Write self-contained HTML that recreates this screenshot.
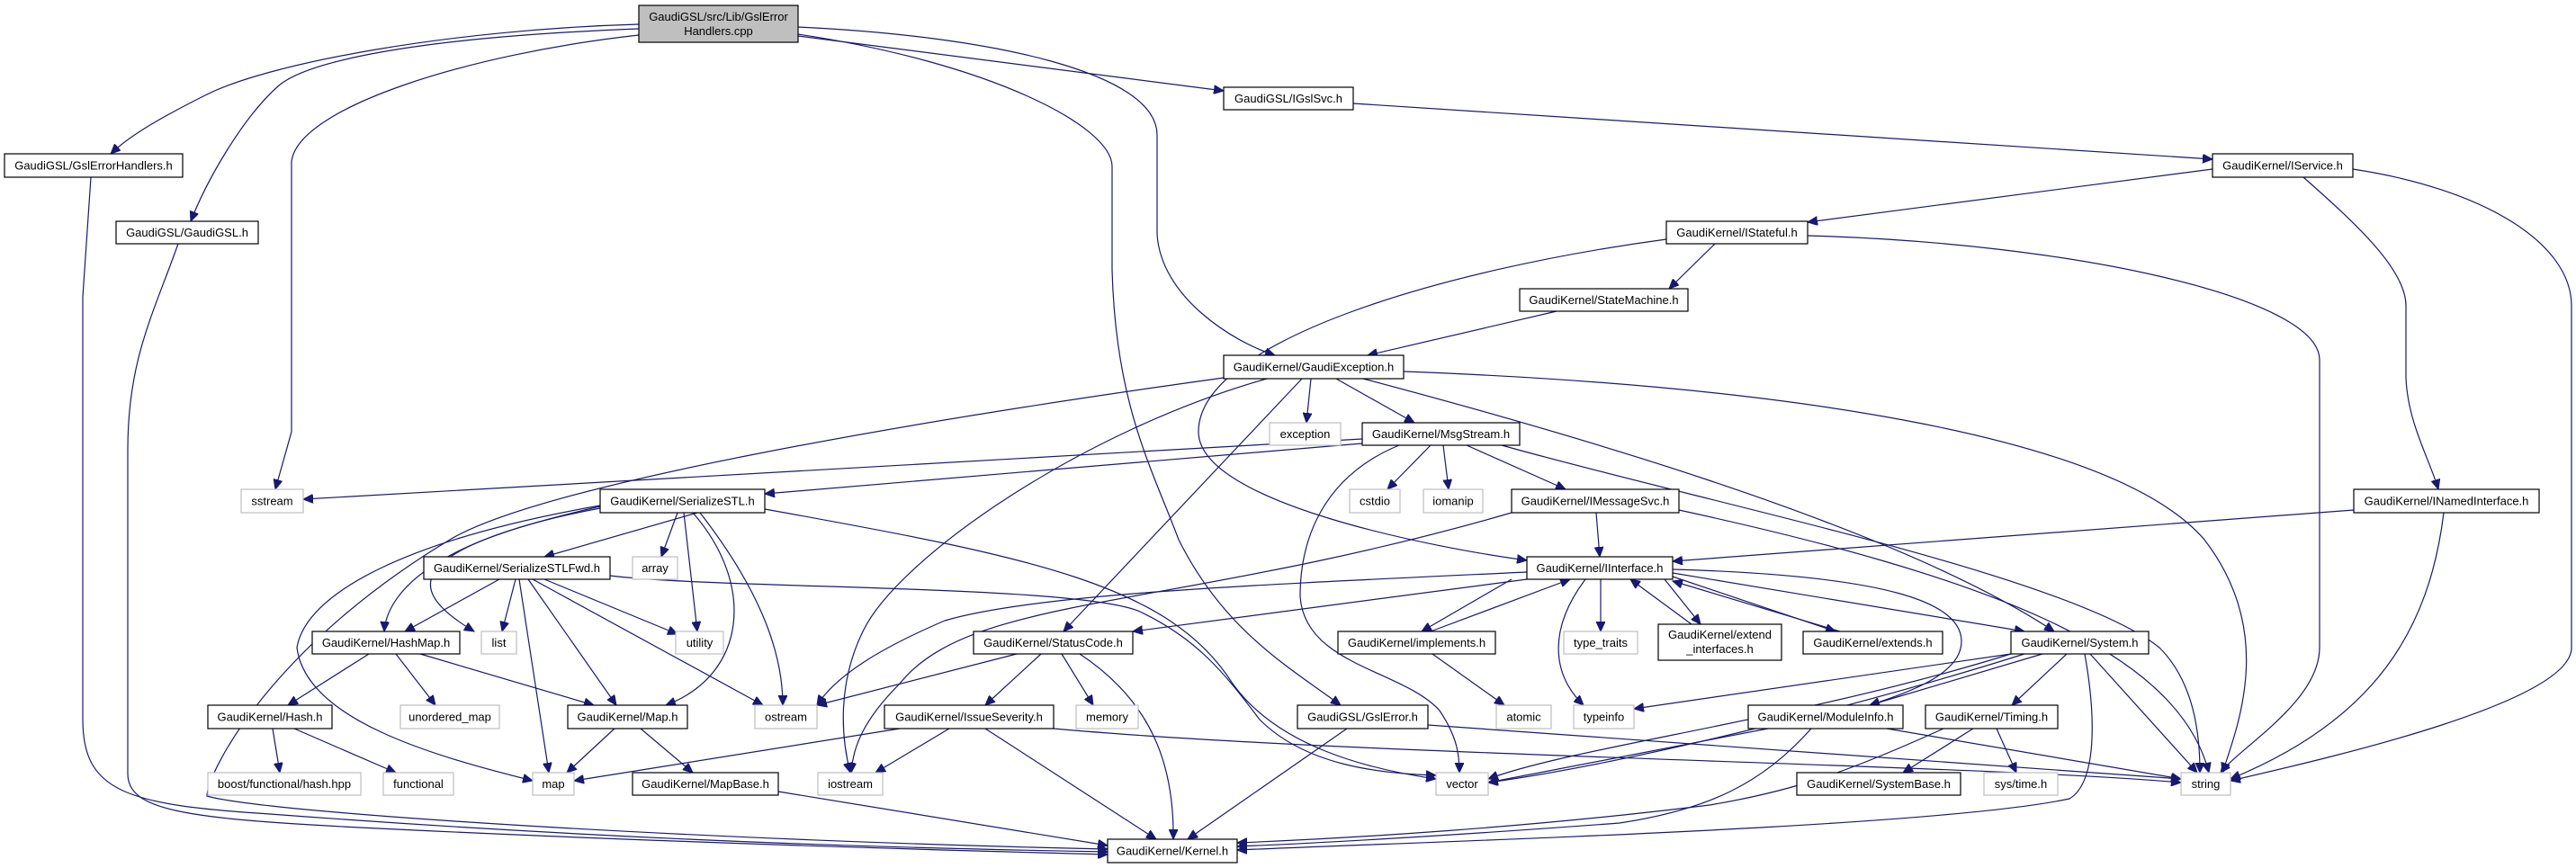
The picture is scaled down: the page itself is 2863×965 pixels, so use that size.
<!DOCTYPE html>
<html><head><meta charset="utf-8"><style>
html,body{margin:0;padding:0;background:#fff}
svg{display:block}
text{font-family:"Liberation Sans",sans-serif;font-size:13px;fill:#000}
.n{fill:#fff;stroke:#000;stroke-width:1.2}
.x{fill:#fff;stroke:#bfbfbf;stroke-width:1.2}
.r{fill:#bfbfbf;stroke:#000;stroke-width:1.2}
.e{fill:none;stroke:#191970;stroke-width:1.2;marker-end:url(#a)}
</style></head><body>
<svg width="2863" height="965" viewBox="0 0 2863 965" xmlns="http://www.w3.org/2000/svg">
<defs><marker id="a" markerUnits="userSpaceOnUse" markerWidth="12" markerHeight="10" refX="11" refY="5" orient="auto"><path d="M0,0 L11,5 L0,10 z" fill="#191970" stroke="#191970"/></marker></defs>
<g>
<!-- root edges -->
<path class="e" d="M710,27 C500,33 300,70 230,105 C180,130 145,150 123,171"/>
<path class="e" d="M710,32 C450,42 340,70 310,95 C270,130 230,200 212,246"/>
<path class="e" d="M710,39 C520,60 330,120 324,180 L324,480 L306,544"/>
<path class="e" d="M887,40 L1360,101"/>
<path class="e" d="M887,30 C1100,40 1286,80 1286,150 L1286,260 C1290,330 1370,380 1417,395"/>
<path class="e" d="M887,38 C1100,70 1236,140 1236,185 L1236,300 C1240,450 1280,520 1310,600 C1360,700 1430,740 1490,784"/>
<path class="e" d="M101,197 L92,330 L92,800 C92,880 140,895 300,905 C700,935 1000,943 1231,947"/>
<path class="e" d="M198,271 C170,350 142,400 142,500 L142,860 C142,900 200,910 400,920 C700,935 1000,944 1231,950"/>
<!-- top chain -->
<path class="e" d="M1504,115 L2459,177"/>
<path class="e" d="M2459,188 L2009,247"/>
<path class="e" d="M2560,197 C2620,250 2674,300 2674,340 L2674,420 C2676,470 2700,510 2710,544"/>
<path class="e" d="M2615,188 C2760,210 2858,270 2858,340 L2858,720 C2858,780 2600,840 2479,868"/>
<path class="e" d="M1906,271 L1855,321"/>
<path class="e" d="M2009,262 C2300,270 2578,330 2578,400 L2578,720 C2578,780 2490,830 2468,859"/>
<path class="e" d="M1852,266 C1600,300 1332,380 1332,480 C1332,560 1600,610 1697,623"/>
<path class="e" d="M1730,346 L1520,395"/>
<!-- GaudiException -->
<path class="e" d="M1360,420 C1000,470 600,540 500,600 C300,720 230,860 230,885 C300,905 800,935 1231,944"/>
<path class="e" d="M1457,421 L1452,470"/>
<path class="e" d="M1485,421 L1572,470"/>
<path class="e" d="M1447,421 L1182,702"/>
<path class="e" d="M1408,421 C1200,480 1000,620 960,700 C930,760 935,820 945,859"/>
<path class="e" d="M1560,413 C1960,428 2347,480 2450,600 C2527,700 2490,800 2470,859"/>
<path class="e" d="M1515,421 C1700,470 2100,580 2283,702"/>
<!-- MsgStream -->
<path class="e" d="M1514,488 L337,555"/>
<path class="e" d="M1514,493 L850,549"/>
<path class="e" d="M1590,495 L1542,544"/>
<path class="e" d="M1604,495 L1610,544"/>
<path class="e" d="M1630,495 L1740,544"/>
<path class="e" d="M1669,495 C1900,560 2300,640 2400,720 C2440,760 2445,820 2445,859"/>
<path class="e" d="M1555,495 C1470,530 1445,600 1445,663 C1450,740 1560,745 1600,790 C1620,820 1622,840 1622,859"/>
<!-- IMessageSvc -->
<path class="e" d="M1774,570 L1778,619"/>
<path class="e" d="M1866,567 C2200,640 2420,720 2455,859"/>
<path class="e" d="M1680,570 C1300,680 1080,660 1000,760 C960,800 948,830 946,859"/>
<!-- INamedInterface -->
<path class="e" d="M2616,567 L1859,624"/>
<path class="e" d="M2716,570 C2700,700 2640,800 2479,866"/>
<!-- IInterface -->
<path class="e" d="M1697,644 L1259,702"/>
<path class="e" d="M1697,636 C1400,650 1150,660 1050,690 C980,720 930,750 908,784"/>
<path class="e" d="M1680,644 L1580,702"/>
<path class="e" d="M1590,702 L1745,644"/>
<path class="e" d="M1850,644 L1890,694"/>
<path class="e" d="M1880,694 L1812,644"/>
<path class="e" d="M1859,641 L2040,702"/>
<path class="e" d="M2045,702 L1859,646"/>
<path class="e" d="M1779,644 L1779,702"/>
<path class="e" d="M1762,644 C1720,700 1725,750 1760,784"/>
<path class="e" d="M1859,637 L2250,702"/>
<path class="e" d="M1859,633 C2100,640 2180,670 2180,713 C2180,750 2120,770 2078,784"/>
<path class="e" d="M1592,727 L1672,784"/>
<!-- StatusCode -->
<path class="e" d="M1130,727 L908,784"/>
<path class="e" d="M1157,727 L1095,784"/>
<path class="e" d="M1180,727 L1215,784"/>
<path class="e" d="M1200,727 C1280,780 1305,850 1304,933"/>
<!-- IssueSeverity -->
<path class="e" d="M1000,810 L638,868"/>
<path class="e" d="M1055,810 L973,859"/>
<path class="e" d="M1095,810 L1285,933"/>
<path class="e" d="M1171,810 C1500,840 2200,850 2424,870"/>
<!-- GslError -->
<path class="e" d="M1497,810 L1320,933"/>
<path class="e" d="M1587,806 L2424,866"/>
<!-- System -->
<path class="e" d="M2235,727 L1816,788"/>
<path class="e" d="M2235,727 C2000,800 1750,830 1654,866"/>
<path class="e" d="M2250,727 C2050,790 1800,850 1654,870"/>
<path class="e" d="M2270,727 L2078,784"/>
<path class="e" d="M2297,727 L2236,784"/>
<path class="e" d="M2323,727 L2442,859"/>
<path class="e" d="M2317,727 C2330,800 2330,870 2300,888 C2150,920 1600,935 1375,945"/>
<!-- ModuleInfo / Timing -->
<path class="e" d="M1965,810 L1654,870"/>
<path class="e" d="M2013,810 C1960,870 1900,900 1800,915 C1600,930 1450,938 1375,941"/>
<path class="e" d="M2097,810 L2424,866"/>
<path class="e" d="M2193,810 L2115,859"/>
<path class="e" d="M2219,810 L2241,859"/>
<path class="e" d="M2160,810 C2050,860 1990,880 1900,895 C1700,920 1500,932 1375,937"/>
<!-- SerializeSTL -->
<path class="e" d="M775,570 L605,619"/>
<path class="e" d="M753,570 L735,619"/>
<path class="e" d="M760,570 L775,702"/>
<path class="e" d="M778,570 C840,650 870,720 870,784"/>
<path class="e" d="M770,570 C840,650 830,750 740,784"/>
<path class="e" d="M667,565 C480,600 430,660 427,702"/>
<path class="e" d="M667,563 C460,610 440,650 527,702"/>
<path class="e" d="M667,562 C450,600 340,660 330,720 C340,800 480,840 592,868"/>
<path class="e" d="M850,566 C1150,620 1300,650 1370,760 C1420,830 1520,855 1596,866"/>
<!-- SerializeSTLFwd -->
<path class="e" d="M555,644 L450,702"/>
<path class="e" d="M573,644 L558,702"/>
<path class="e" d="M577,644 L610,859"/>
<path class="e" d="M587,644 L685,784"/>
<path class="e" d="M592,644 L848,784"/>
<path class="e" d="M605,644 L753,705"/>
<path class="e" d="M678,640 C800,655 1200,650 1267,680 C1330,710 1360,747 1400,800 C1450,850 1530,860 1596,862"/>
<!-- HashMap etc -->
<path class="e" d="M410,727 L320,784"/>
<path class="e" d="M440,727 L484,784"/>
<path class="e" d="M467,727 L660,784"/>
<path class="e" d="M303,810 L311,859"/>
<path class="e" d="M327,810 L440,859"/>
<path class="e" d="M683,810 L630,859"/>
<path class="e" d="M712,810 L770,859"/>
<path class="e" d="M865,880 L1231,940"/>
</g>
<g>
<rect class="r" x="710" y="6" width="177" height="41"/><text x="798.5" y="23" text-anchor="middle">GaudiGSL/src/Lib/GslError</text><text x="798.5" y="39" text-anchor="middle">Handlers.cpp</text>
<rect class="n" x="5" y="171" width="198" height="26"/><text x="104" y="188.5" text-anchor="middle">GaudiGSL/GslErrorHandlers.h</text>
<rect class="n" x="129" y="246" width="158" height="25"/><text x="208" y="263" text-anchor="middle">GaudiGSL/GaudiGSL.h</text>
<rect class="n" x="1360" y="97" width="144" height="25"/><text x="1432" y="114" text-anchor="middle">GaudiGSL/IGslSvc.h</text>
<rect class="n" x="2459" y="171" width="156" height="26"/><text x="2537" y="188.5" text-anchor="middle">GaudiKernel/IService.h</text>
<rect class="n" x="1852" y="246" width="157" height="25"/><text x="1930.5" y="263" text-anchor="middle">GaudiKernel/IStateful.h</text>
<rect class="n" x="1689" y="321" width="187" height="25"/><text x="1782.5" y="338" text-anchor="middle">GaudiKernel/StateMachine.h</text>
<rect class="n" x="1360" y="395" width="200" height="26"/><text x="1460" y="412.5" text-anchor="middle">GaudiKernel/GaudiException.h</text>
<rect class="x" x="1411" y="470" width="79" height="25"/><text x="1450.5" y="487" text-anchor="middle">exception</text>
<rect class="n" x="1514" y="470" width="175" height="25"/><text x="1601.5" y="487" text-anchor="middle">GaudiKernel/MsgStream.h</text>
<rect class="x" x="268" y="544" width="69" height="26"/><text x="302.5" y="561.5" text-anchor="middle">sstream</text>
<rect class="n" x="667" y="544" width="183" height="26"/><text x="758.5" y="561.5" text-anchor="middle">GaudiKernel/SerializeSTL.h</text>
<rect class="x" x="1500" y="544" width="56" height="26"/><text x="1528" y="561.5" text-anchor="middle">cstdio</text>
<rect class="x" x="1582" y="544" width="66" height="26"/><text x="1615" y="561.5" text-anchor="middle">iomanip</text>
<rect class="n" x="1680" y="544" width="186" height="26"/><text x="1773" y="561.5" text-anchor="middle">GaudiKernel/IMessageSvc.h</text>
<rect class="n" x="2616" y="544" width="206" height="26"/><text x="2719" y="561.5" text-anchor="middle">GaudiKernel/INamedInterface.h</text>
<rect class="n" x="471" y="619" width="207" height="25"/><text x="574.5" y="636" text-anchor="middle">GaudiKernel/SerializeSTLFwd.h</text>
<rect class="x" x="703" y="619" width="50" height="25"/><text x="728" y="636" text-anchor="middle">array</text>
<rect class="n" x="1697" y="619" width="162" height="25"/><text x="1778" y="636" text-anchor="middle">GaudiKernel/IInterface.h</text>
<rect class="n" x="347" y="702" width="164" height="25"/><text x="429" y="719" text-anchor="middle">GaudiKernel/HashMap.h</text>
<rect class="x" x="535" y="702" width="39" height="25"/><text x="554.5" y="719" text-anchor="middle">list</text>
<rect class="x" x="751" y="702" width="53" height="25"/><text x="777.5" y="719" text-anchor="middle">utility</text>
<rect class="n" x="1082" y="702" width="177" height="25"/><text x="1170.5" y="719" text-anchor="middle">GaudiKernel/StatusCode.h</text>
<rect class="n" x="1487" y="702" width="175" height="25"/><text x="1574.5" y="719" text-anchor="middle">GaudiKernel/implements.h</text>
<rect class="x" x="1738" y="702" width="82" height="25"/><text x="1779" y="719" text-anchor="middle">type_traits</text>
<rect class="n" x="1843" y="694" width="137" height="40"/><text x="1911.5" y="710" text-anchor="middle">GaudiKernel/extend</text><text x="1911.5" y="726" text-anchor="middle">_interfaces.h</text>
<rect class="n" x="2004" y="702" width="155" height="25"/><text x="2081.5" y="719" text-anchor="middle">GaudiKernel/extends.h</text>
<rect class="n" x="2235" y="702" width="153" height="25"/><text x="2311.5" y="719" text-anchor="middle">GaudiKernel/System.h</text>
<rect class="n" x="231" y="784" width="138" height="26"/><text x="300" y="801.5" text-anchor="middle">GaudiKernel/Hash.h</text>
<rect class="x" x="445" y="784" width="110" height="26"/><text x="500" y="801.5" text-anchor="middle">unordered_map</text>
<rect class="n" x="631" y="784" width="133" height="26"/><text x="697.5" y="801.5" text-anchor="middle">GaudiKernel/Map.h</text>
<rect class="x" x="839" y="784" width="69" height="26"/><text x="873.5" y="801.5" text-anchor="middle">ostream</text>
<rect class="n" x="983" y="784" width="188" height="26"/><text x="1077" y="801.5" text-anchor="middle">GaudiKernel/IssueSeverity.h</text>
<rect class="x" x="1196" y="784" width="69" height="26"/><text x="1230.5" y="801.5" text-anchor="middle">memory</text>
<rect class="n" x="1442" y="784" width="145" height="26"/><text x="1514.5" y="801.5" text-anchor="middle">GaudiGSL/GslError.h</text>
<rect class="x" x="1663" y="784" width="61" height="26"/><text x="1693.5" y="801.5" text-anchor="middle">atomic</text>
<rect class="x" x="1749" y="784" width="67" height="26"/><text x="1782.5" y="801.5" text-anchor="middle">typeinfo</text>
<rect class="n" x="1943" y="784" width="172" height="26"/><text x="2029" y="801.5" text-anchor="middle">GaudiKernel/ModuleInfo.h</text>
<rect class="n" x="2140" y="784" width="147" height="26"/><text x="2213.5" y="801.5" text-anchor="middle">GaudiKernel/Timing.h</text>
<rect class="x" x="231" y="859" width="170" height="25"/><text x="316" y="876" text-anchor="middle">boost/functional/hash.hpp</text>
<rect class="x" x="426" y="859" width="78" height="25"/><text x="465" y="876" text-anchor="middle">functional</text>
<rect class="x" x="592" y="859" width="46" height="25"/><text x="615" y="876" text-anchor="middle">map</text>
<rect class="n" x="703" y="859" width="162" height="25"/><text x="784" y="876" text-anchor="middle">GaudiKernel/MapBase.h</text>
<rect class="x" x="909" y="859" width="72" height="25"/><text x="945" y="876" text-anchor="middle">iostream</text>
<rect class="x" x="1596" y="859" width="58" height="25"/><text x="1625" y="876" text-anchor="middle">vector</text>
<rect class="n" x="1997" y="859" width="182" height="25"/><text x="2088" y="876" text-anchor="middle">GaudiKernel/SystemBase.h</text>
<rect class="x" x="2205" y="859" width="82" height="25"/><text x="2246" y="876" text-anchor="middle">sys/time.h</text>
<rect class="x" x="2424" y="859" width="55" height="25"/><text x="2451.5" y="876" text-anchor="middle">string</text>
<rect class="n" x="1231" y="933" width="144" height="26"/><text x="1303" y="950.5" text-anchor="middle">GaudiKernel/Kernel.h</text>
</g>
</svg>
</body></html>
